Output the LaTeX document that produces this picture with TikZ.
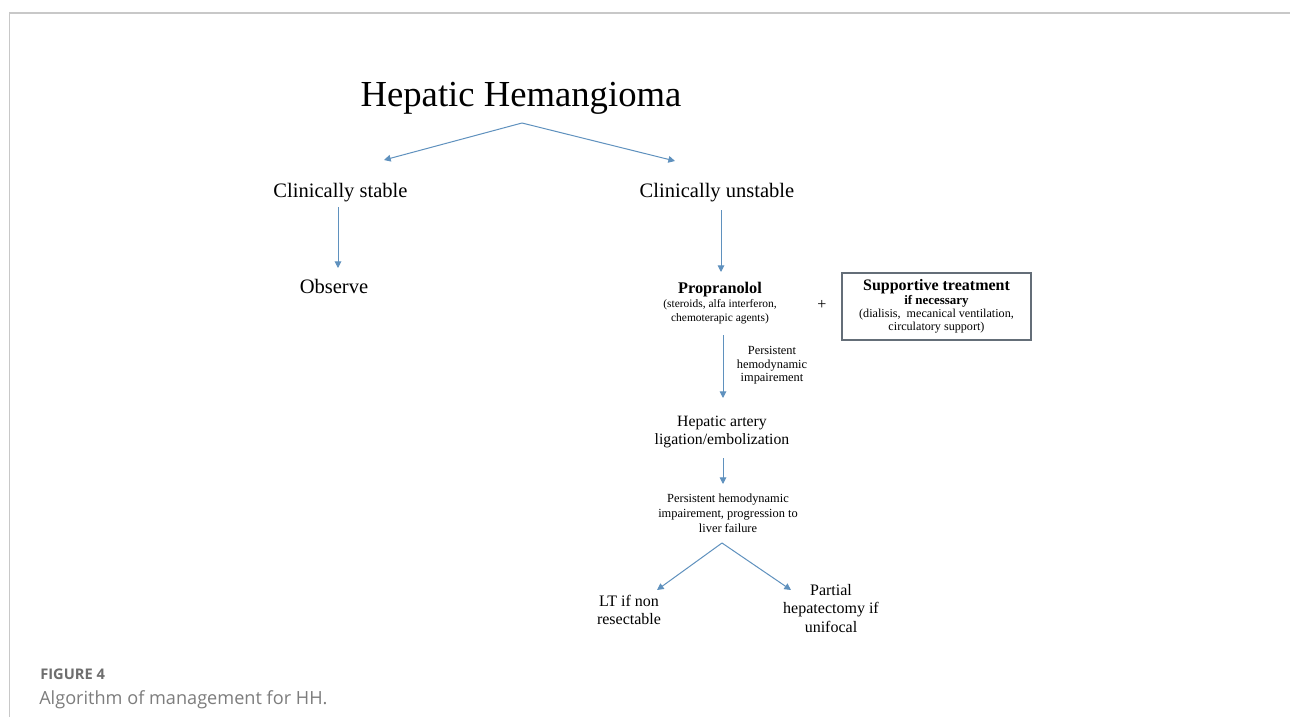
\documentclass[tikz,border=0pt]{standalone}
\usepackage{fontspec}
\setmainfont{Liberation Serif}
\newfontfamily\capfont{Open Sans}
\usetikzlibrary{arrows.meta}
\definecolor{arr}{RGB}{95,145,190}
\definecolor{framec}{RGB}{200,200,200}
\definecolor{capdark}{RGB}{110,110,110}
\definecolor{caplight}{RGB}{125,125,125}
\definecolor{boxc}{RGB}{100,110,120}
\begin{document}
\begin{tikzpicture}[x=0.75pt,y=-0.75pt,
  arrow/.style={draw=arr,line width=0.75pt,-{Triangle[length=5pt,width=5pt]}},
  txt/.style={inner sep=0pt,align=center},
  bigtxt/.style={txt,font=\fontsize{15.4}{18}\selectfont},
  midtxt/.style={txt,font=\fontsize{11.8}{13.7}\selectfont},
  leaftxt/.style={txt,font=\fontsize{12}{13.8}\selectfont},
  smalltxt/.style={txt,font=\fontsize{9.3}{10.1}\selectfont},
  boxnode/.style={draw=boxc,line width=0.8pt,inner sep=0pt,align=center,
    minimum width=141.75pt,minimum height=50.25pt,font=\fontsize{9.1}{10.1}\selectfont},
  captxt/.style={inner sep=0pt,anchor=base west}]
\useasboundingbox (0,0) rectangle (1290,717);
\fill[white] (0,0) rectangle (1290,717);
\draw[framec,line width=1.5pt] (9.5,12.7) -- (1290,12.7);
\draw[framec,line width=0.75pt] (9.5,12) -- (9.5,717);

% nodes
\node[txt,anchor=base,font=\fontsize{27.5}{33}\selectfont] (title) at (521,107) {Hepatic Hemangioma};
\node[bigtxt,anchor=base] (stable) at (340.5,197) {Clinically stable};
\node[bigtxt,anchor=base] (unstable) at (717,197) {Clinically unstable};
\node[bigtxt,anchor=base] (observe) at (334,293) {Observe};
\node[txt,font=\fontsize{8.6}{10.3}\selectfont] (prop) at (720,303)
  {{\fontsize{12.2}{14}\selectfont\bfseries Propranolol}\\(steroids, alfa interferon,\\chemoterapic agents)};
\node[txt,font=\fontsize{12}{14}\selectfont] (plus) at (822,305) {+};
\node[boxnode] (support) at (936.5,306.5)
  {{\fontsize{12}{14}\selectfont\bfseries Supportive treatment}\\{\fontsize{9.7}{11}\selectfont\bfseries if necessary}\\(dialisis,\ \ mecanical ventilation,\\circulatory support)};
\node[smalltxt] (persist1) at (772,365.5) {Persistent\\hemodynamic\\impairement};
\node[midtxt] (hepart) at (722,432) {Hepatic artery\\ligation/embolization};
\node[txt,font=\fontsize{9.3}{11.25}\selectfont] (persist2) at (728,513)
  {Persistent hemodynamic\\impairement, progression to\\liver failure};
\node[leaftxt] (lt) at (629,610) {LT if non\\resectable};
\node[txt,font=\fontsize{12}{14.2}\selectfont] (partial) at (831,608.5) {Partial\\hepatectomy if\\unifocal};

% connector end points
\coordinate (s1) at (522,123);
\coordinate (s1l) at (384,160);
\coordinate (s1r) at (675,161);
\coordinate (a1s) at (338,207);
\coordinate (a1e) at (338,268);
\coordinate (a2s) at (721,210);
\coordinate (a2e) at (721,272);
\coordinate (a3s) at (723,335);
\coordinate (a3e) at (723,398);
\coordinate (a4s) at (723,458);
\coordinate (a4e) at (723,484);
\coordinate (s2) at (722,543);
\coordinate (s2l) at (657,590);
\coordinate (s2r) at (791,590);

\draw[arrow] (s1) -- (s1l);
\draw[arrow] (s1) -- (s1r);
\draw[arrow] (a1s) -- (a1e);
\draw[arrow] (a2s) -- (a2e);
\draw[arrow] (a3s) -- (a3e);
\draw[arrow] (a4s) -- (a4e);
\draw[arrow] (s2) -- (s2l);
\draw[arrow] (s2) -- (s2r);

% caption
\node[captxt,font=\capfont\fontsize{11}{13}\selectfont\bfseries,text=capdark] (fig) at (40,679) {FIGURE 4};
\node[captxt,font=\capfont\fontsize{13.6}{16}\selectfont,text=caplight] (capt) at (39,704) {Algorithm of management for HH.};
\end{tikzpicture}
\end{document}
